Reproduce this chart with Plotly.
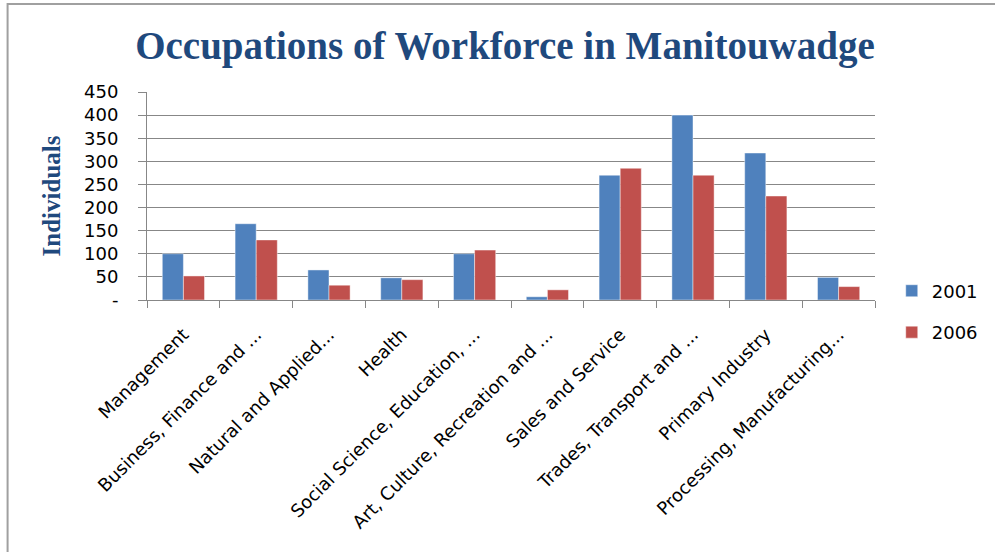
import plotly.graph_objects as go

# Occupation categories (labels as truncated on the axis)
categories = [
    "Management",
    "Business, Finance and ...",
    "Natural and Applied...",
    "Health",
    "Social Science, Education, ...",
    "Art, Culture, Recreation and ...",
    "Sales and Service",
    "Trades, Transport and ...",
    "Primary Industry",
    "Processing, Manufacturing...",
]

# Number of individuals per occupation
values_2001 = [100, 165, 65, 48, 100, 7, 270, 400, 318, 49]
values_2006 = [52, 130, 32, 44, 108, 22, 285, 270, 225, 29]

# Y-axis tick positions and labels (zero shown as a dash)
y_tickvals = [0, 50, 100, 150, 200, 250, 300, 350, 400, 450]
y_ticktext = ["-", "50", "100", "150", "200", "250", "300", "350", "400", "450"]

BLUE = "#4F81BD"
RED = "#C0504D"
TITLE_BLUE = "#1F497D"
GRID = "#878787"
SANS = "DejaVu Sans"
SERIF = "Liberation Serif"

fig = go.Figure()
fig.add_trace(go.Bar(
    name="2001", x=categories, y=values_2001,
    marker=dict(color=BLUE, line=dict(color="rgba(255,255,255,0.45)", width=1)),
    legendgroup="a",
))
fig.add_trace(go.Bar(
    name="2006", x=categories, y=values_2006,
    marker=dict(color=RED, line=dict(color="rgba(255,255,255,0.45)", width=1)),
    legendgroup="b",
))

fig.update_layout(
    width=995, height=552,
    margin=dict(l=147, r=117, t=92, b=252),
    paper_bgcolor="white", plot_bgcolor="white",
    barmode="group", bargap=0.42, bargroupgap=0,
    title=dict(
        text="<b>Occupations of Workforce in Manitouwadge</b>",
        font=dict(family=SERIF, size=39, color=TITLE_BLUE),
        x=505 / 995, xref="container", xanchor="center",
        y=1 - 45 / 552, yref="container", yanchor="middle",
    ),
    font=dict(family=SANS, color="black"),
    legend=dict(
        x=1.023, xanchor="left", y=0.132, yanchor="top",
        font=dict(family=SANS, size=18, color="black"),
        tracegroupgap=15, bgcolor="rgba(0,0,0,0)",
    ),
    showlegend=True,
)

fig.update_yaxes(
    range=[0, 450],
    tickvals=y_tickvals, ticktext=y_ticktext,
    tickfont=dict(family=SANS, size=18, color="black"),
    showgrid=True, gridcolor=GRID, gridwidth=1,
    showline=True, linecolor=GRID, linewidth=1,
    ticks="outside", ticklen=8, tickcolor=GRID,
    ticklabelstandoff=16,
    zeroline=False,
    title=dict(
        text="<b>Individuals</b>",
        font=dict(family=SERIF, size=25, color=TITLE_BLUE),
        standoff=16,
    ),
)

fig.update_xaxes(
    tickangle=-45,
    tickfont=dict(family=SANS, size=18, color="black"),
    showline=True, linecolor=GRID, linewidth=1,
    ticks="outside", ticklen=7, tickcolor=GRID, tickson="boundaries",
    ticklabelstandoff=16,
    showgrid=False,
)

# Chart frame
fig.add_shape(
    type="rect", xref="paper", yref="paper",
    x0=-0.1915, x1=1.3, y0=-1.4, y1=1.423,
    line=dict(color="#A0A0A0", width=2), fillcolor="rgba(0,0,0,0)", layer="below",
)

fig.write_html("out.html")
